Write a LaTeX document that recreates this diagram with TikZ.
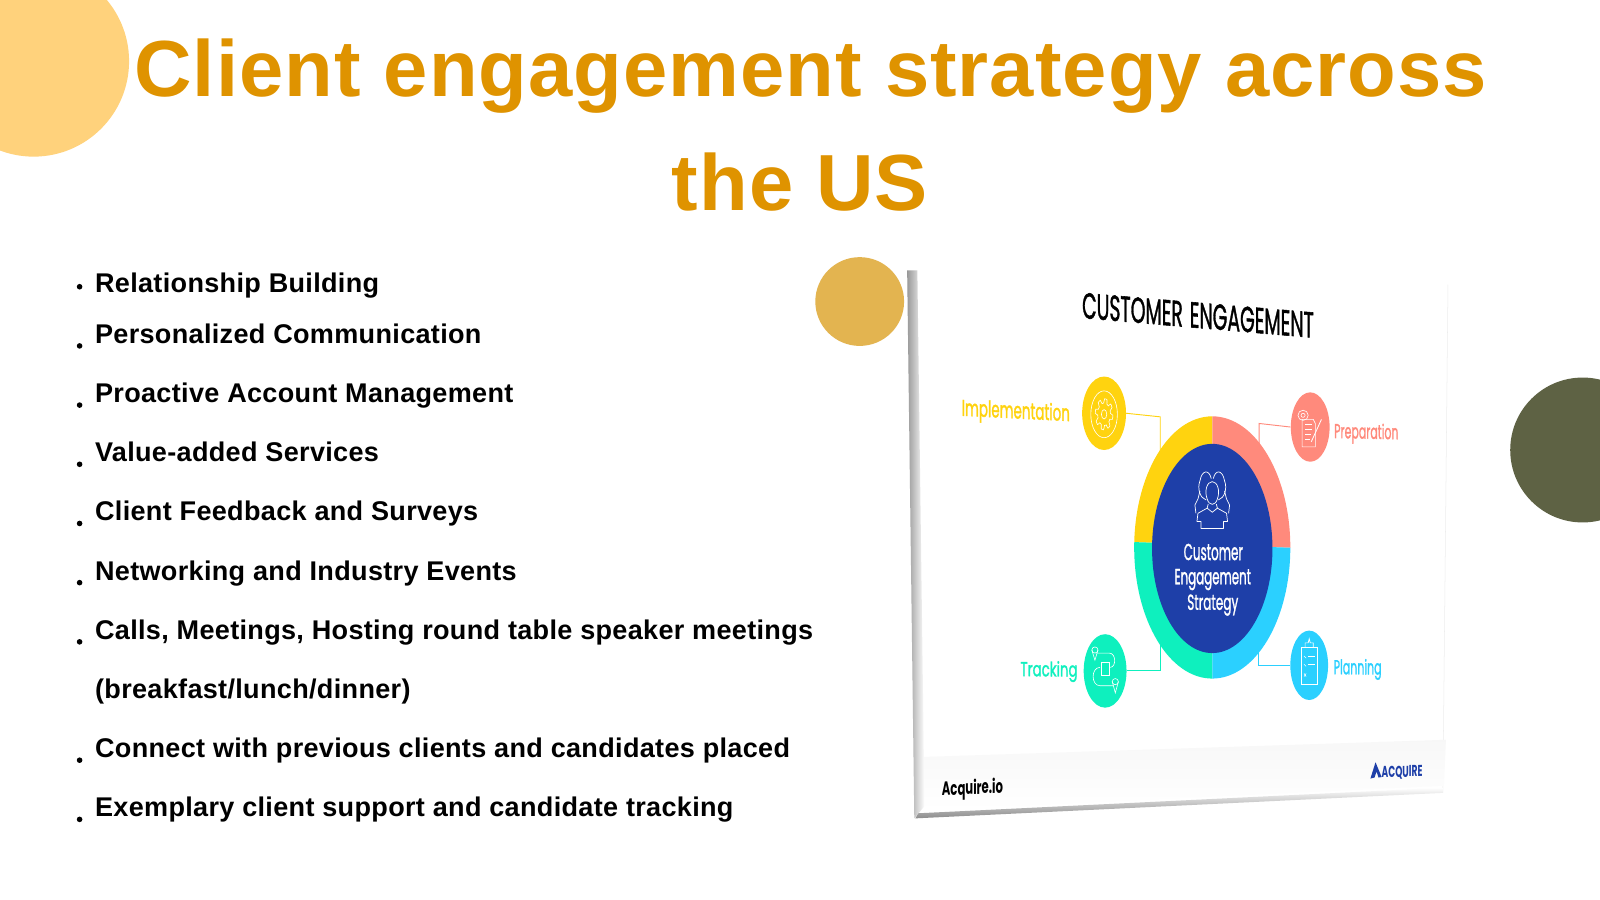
\documentclass[tikz,border=0pt]{standalone}
\usepackage{fontspec}
\usepackage{graphicx}
\setmainfont{Liberation Sans}
\newfontfamily\pop{Poppins}
\newfontfamily\popm[FakeBold=1.5]{Poppins}
\usetikzlibrary{shapes.geometric,arrows.meta}
\definecolor{titlegold}{HTML}{DF9300}
\definecolor{peach}{HTML}{FFD27C}
\definecolor{mustard}{HTML}{E3B450}
\definecolor{olive}{HTML}{5E6244}
\definecolor{cyel}{HTML}{FFD30F}
\definecolor{cpink}{HTML}{FF8A7C}
\definecolor{cteal}{HTML}{0EF0BE}
\definecolor{csky}{HTML}{2BD0FF}
\definecolor{cnavy}{HTML}{1E3FA8}
\newcommand{\fit}[3]{\resizebox{#1pt}{#2pt}{\popm #3}}
\newcommand{\fitb}[3]{\resizebox{#1pt}{#2pt}{\pop\bfseries #3}}
\tikzset{
  titletext/.style={anchor=base,inner sep=0,text=titlegold,font=\fontsize{78}{78}\selectfont\bfseries\addfontfeatures{LetterSpace=1.3}},
  itemtext/.style={anchor=base west,inner sep=0,text=black,font=\fontsize{26.5}{26.5}\selectfont\bfseries\addfontfeatures{LetterSpace=1.2}},
  bulletdot/.style={circle,fill=black,inner sep=0,minimum size=5.5pt},
  hubcircle/.style={ellipse,inner sep=0,fill=#1},
  link/.style={draw=#1,line width=0.9pt},
  label/.style={inner sep=0,transform shape},
  icon/.style={draw=white,line width=0.7pt,line join=round,fill=none},
}
\begin{document}
\begin{tikzpicture}[x=1pt,y=-1pt]
\useasboundingbox (0,0) rectangle (1568,882);
\fill[white] (0,0) rectangle (1568,882);
\begin{scope}
\clip (0,0) rectangle (1568,882);
\fill[peach] (33,60) circle [radius=93.5];
\fill[olive] (1551,441) circle [radius=71];
\end{scope}
\fill[mustard] (842.5,295.5) circle [radius=43.5];

\node[titletext] (title1) at (794.5,95) {Client engagement strategy across};
\node[titletext] (title2) at (784,206) {the US};

\node[itemtext] (i1) at (93,286.5) {Relationship Building};
\node[itemtext] (i2) at (93,336.5) {Personalized Communication};
\node[itemtext] (i3) at (93,394.5) {Proactive Account Management};
\node[itemtext] (i4) at (93,452.5) {Value-added Services};
\node[itemtext] (i5) at (93,510.5) {Client Feedback and Surveys};
\node[itemtext] (i6) at (93,568.5) {Networking and Industry Events};
\node[itemtext] (i7) at (93,626.5) {Calls, Meetings, Hosting round table speaker meetings};
\node[itemtext] (i7b) at (93,684.5) {(breakfast/lunch/dinner)};
\node[itemtext] (i8) at (93,742.5) {Connect with previous clients and candidates placed};
\node[itemtext] (i9) at (93,800.5) {Exemplary client support and candidate tracking};
\foreach \n/\y in {b1/281,b2/339,b3/397,b4/455,b5/513,b6/571,b7/629,b8/745,b9/803}
  \node[bulletdot] (\n) at (78,\y) {};

% card
\fill[white] (890,265) -- (1419,279) -- (1414,777) -- (897,802) -- cycle;
\draw[line width=0.5pt,black!7] (1419,279) -- (1414,777);
\shade[top color=black!3,bottom color=white] (899,742) -- (1417,725) -- (1415,770) -- (899,794) -- cycle;
\shade[left color=black!40,right color=white] (889,265) -- (899,265) -- (906,790) -- (896,802) -- cycle;
\shade[top color=white,bottom color=black!45] (900,797) -- (1414,772) -- (1414,777) -- (897,802) -- cycle;

\node[label,yslant=-0.085] (ctitle) at (1174,309) {\fit{227}{25}{CUSTOMER\hspace{0.1em} ENGAGEMENT}};

% connectors
\node[hubcircle=cyel,minimum width=43pt,minimum height=72pt] (impl) at (1082,405) {};
\node[hubcircle=cpink,minimum width=38pt,minimum height=68pt] (prep) at (1284,418.5) {};
\node[hubcircle=cteal,minimum width=42pt,minimum height=72pt] (track) at (1083,657.5) {};
\node[hubcircle=csky,minimum width=37pt,minimum height=68pt] (plan) at (1283,652) {};
\coordinate (ringA) at (1137,450);
\coordinate (ringB) at (1234,450);
\coordinate (ringC) at (1137,625);
\coordinate (ringD) at (1233,625);
\draw[link=cyel] (impl.east) -- (ringA |- 0,408.5) -- (ringA);
\draw[link=cpink] (prep.west) -- (ringB |- 0,415) -- (ringB);
\draw[link=cteal] (track.east) -- (ringC |- track.east) -- (ringC);
\draw[link=csky] (plan.west) -- (ringD |- plan.west) -- (ringD);

% ring
\node[ellipse,inner sep=0,minimum width=153pt,minimum height=257pt] (ring) at (1188,536.5) {};
\begin{scope}
\clip (1188,536.5) ellipse [x radius=76.5,y radius=128.5];
\fill[cyel] (1105,400) -- (1188,400) -- (1188,534) -- (1105,531) -- cycle;
\fill[cpink] (1188,400) -- (1270,400) -- (1270,537) -- (1188,534) -- cycle;
\fill[cteal] (1105,531) -- (1188,534) -- (1188,670) -- (1105,670) -- cycle;
\fill[csky] (1188,534) -- (1270,537) -- (1270,670) -- (1188,670) -- cycle;
\end{scope}
\node[hubcircle=cnavy,minimum width=118pt,minimum height=205pt] (hub) at (1188,537.5) {};

% hub people icon
\begin{scope}[shift={(1188,491)}]
\draw[icon] (-6,-1) .. controls (-12,-3) and (-15,-12) .. (-12,-20) .. controls (-10,-31) and (-3,-31) .. (-1,-22);
\draw[icon] (6,-1) .. controls (12,-3) and (15,-12) .. (12,-20) .. controls (10,-31) and (3,-31) .. (1,-22);
\draw[icon] (-5,-2) .. controls (-8,-10) and (-5,-19) .. (0,-19) .. controls (5,-19) and (8,-10) .. (5,-2) .. controls (3,5) and (-3,5) .. (-5,-2);
\draw[icon] (-4,3) -- (-5,7) -- (-14,12) -- (-15,20) -- (-11,20) -- (-11,27) -- (11,27) -- (11,20) -- (15,20) -- (14,12) -- (5,7) -- (4,3);
\draw[icon] (-5,7) -- (0,11) -- (5,7);
\draw[icon] (-12,-10) -- (-14,-2) -- (-17,4) -- (-16,12);
\draw[icon] (12,-10) -- (14,-2) -- (17,4) -- (16,12);
\end{scope}
\node[label,text=white] (h1) at (1189,541) {\fit{58}{16}{Customer}};
\node[label,text=white] (h2) at (1188.5,568) {\fit{75}{15}{Engagement}};
\node[label,text=white] (h3) at (1188.5,593) {\fit{50}{15}{Strategy}};

% outer labels
\node[label,yslant=-0.05,text=cyel] (l1) at (995.5,404.5) {\fit{106}{17}{Implementation}};
\node[label,yslant=-0.02,text=cpink] (l2) at (1339,425) {\fit{63}{15}{Preparation}};
\node[label,yslant=-0.01,text=cteal] (l3) at (1028,658) {\fit{56}{15}{Tracking}};
\node[label,yslant=-0.005,text=csky] (l4) at (1330.5,656) {\fit{47}{15}{Planning}};
\node[label,yslant=0.05] (l5) at (953,773.5) {\fitb{60}{15}{Acquire.io}};
\fill[cnavy] (1348,747) -- (1343,763) -- (1347,762) -- (1349,756) -- (1351,762) -- (1354,761.5) -- cycle;
\node[label,yslant=0.02,text=cnavy] (l6) at (1374,757) {\fitb{40}{11}{ACQUIRE}};

% gear icon
\begin{scope}[shift={(1082,406)},x=0.93pt,y=-1.64pt]
\draw[white,line width=0.6pt] plot[domain=0:360,samples=97] ({(8+1.3*sign(sin(8*\x)))*cos(\x)},{(8+1.3*sign(sin(8*\x)))*sin(\x)}) -- cycle;
\draw[white,line width=0.6pt] (0,0) circle [radius=2.8];
\draw[white,line width=0.6pt] (0,0) circle [radius=14];
\end{scope}
% preparation icon
\begin{scope}[shift={(1284,418)}]
\draw[white,line width=0.6pt] (-8,-7) -- (3,-7) -- (5,-3) -- (5,20) -- (-8,20) -- cycle;
\draw[white,line width=0.6pt] (-5,-2) -- (2,-2) (-5,3) -- (2,3) (-5,8) -- (1,8) (-5,13) -- (0,13);
\draw[white,line width=0.8pt] (1,15) -- (11,-7);
\draw[white,line width=0.6pt] (-7,-11) circle [radius=2];
\draw[white,line width=0.6pt] (-7,-11) circle [radius=5];
\end{scope}
% tracking icon
\begin{scope}[shift={(1083,657)}]
\draw[white,line width=0.6pt] (-10,-20) circle [radius=3];
\draw[white,line width=0.6pt] (-13,-20) -- (-10,-10) -- (-7,-20);
\draw[white,line width=0.6pt] (-8,-17) -- (4,-17) .. controls (11,-17) and (11,-3) .. (5,-3);
\draw[white,line width=0.6pt] (-5,-3) .. controls (-14,-3) and (-14,15) .. (-5,15) -- (8,15);
\draw[white,line width=0.7pt] (-4,-8) rectangle (4,5);
\draw[white,line width=0.6pt] (10,11) circle [radius=3];
\draw[white,line width=0.6pt] (7,11) -- (10,22) -- (13,11);
\end{scope}
% planning icon
\begin{scope}[shift={(1283,652)}]
\draw[white,line width=0.7pt] (-8,-18) rectangle (8,19);
\draw[white,line width=0.7pt] (-4,-18) -- (-4,-22) -- (-1,-22) -- (0,-26) -- (1,-22) -- (4,-22) -- (4,-18);
\draw[white,line width=0.6pt] (-1,-9) -- (6,-9) (-1,-1) -- (6,-1);
\draw[white,line width=0.6pt] (-5,-9) -- (-3,-7) (-5,-1) -- (-3,1) (-5,8) -- (-3,11) (-3,8) -- (-5,11);
\end{scope}
\end{tikzpicture}
\end{document}
